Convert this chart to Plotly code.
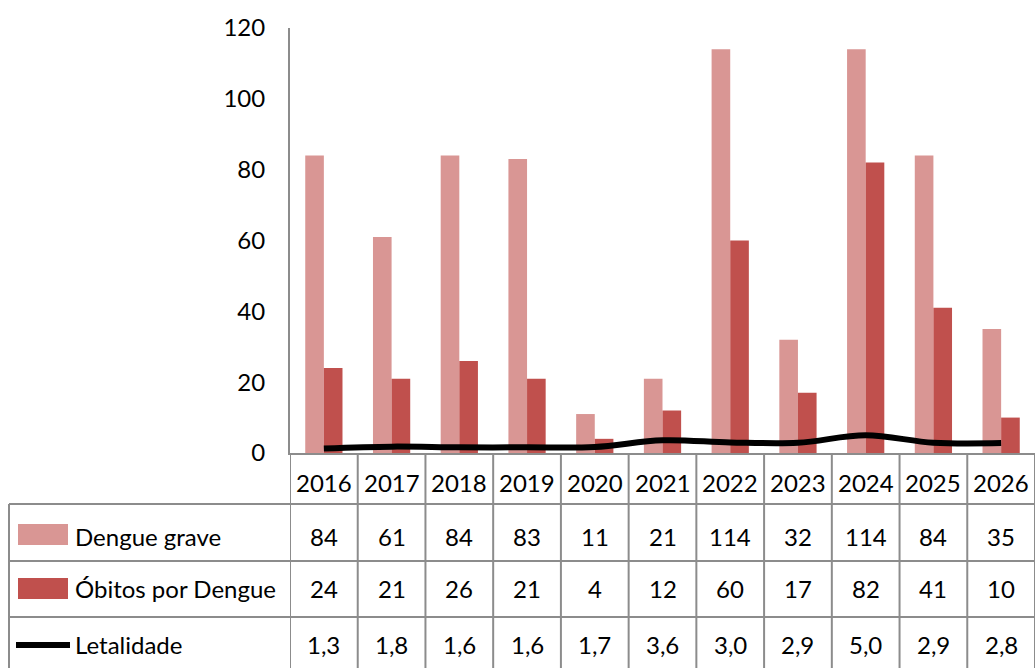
import plotly.graph_objects as go

years = ["2016", "2017", "2018", "2019", "2020", "2021", "2022", "2023", "2024", "2025", "2026"]
dengue_grave = [84, 61, 84, 83, 11, 21, 114, 32, 114, 84, 35]
obitos = [24, 21, 26, 21, 4, 12, 60, 17, 82, 41, 10]
letalidade = [1.3, 1.8, 1.6, 1.6, 1.7, 3.6, 3.0, 2.9, 5.0, 2.9, 2.8]
row_labels = ["Dengue grave", "Óbitos por Dengue", "Letalidade"]

C_PINK = "#D99694"
C_RED = "#C0504D"
GRID = "#8C8C8C"
FONT = "Lato, Liberation Sans, sans-serif"
FS = 24

W, H = 1035, 668
ML, MR, MT, MB = 290, 0, 28, 215
PW = W - ML - MR
PH = H - MT - MB


def px(xpix):
    return (xpix - ML) / PW


def py(ypix):
    return (MT + PH - ypix) / PH


fig = go.Figure()
fig.add_trace(go.Bar(x=years, y=dengue_grave, name=row_labels[0], marker_color=C_PINK,
                     marker_line_width=0))
fig.add_trace(go.Bar(x=years, y=obitos, name=row_labels[1], marker_color=C_RED,
                     marker_line_width=0))
fig.add_trace(go.Scatter(x=years, y=letalidade, name=row_labels[2], mode="lines",
                         line=dict(color="black", width=6, shape="spline", smoothing=1)))

row_centres = [482, 536, 588, 644]
h_lines = [504, 561, 617]
bottom = H + 5

tf = dict(size=FS, family=FONT, color="black")
ann = []
shapes = []
n = len(years)
rows = [
    years,
    [str(v) for v in dengue_grave],
    [str(v) for v in obitos],
    [f"{v:.1f}".replace(".", ",") for v in letalidade],
]
for r, vals in enumerate(rows):
    for i, t in enumerate(vals):
        ann.append(dict(x=i, y=py(row_centres[r]), xref="x", yref="paper", text=t,
                        xanchor="center", yanchor="middle", showarrow=False, font=tf))

for j, lab in enumerate(row_labels):
    ann.append(dict(x=px(73), y=py(row_centres[j + 1]), xref="paper", yref="paper", text=lab,
                    xanchor="left", yanchor="middle", showarrow=False, font=tf))

for k in range(n + 1):
    shapes.append(dict(type="line", xref="x", yref="paper", x0=k - 0.5, x1=k - 0.5,
                       y0=py(453), y1=py(bottom), line=dict(color=GRID, width=2)))
shapes.append(dict(type="line", xref="paper", yref="paper", x0=px(9), x1=px(9),
                   y0=py(h_lines[0]), y1=py(bottom), line=dict(color=GRID, width=2)))
for yy in h_lines:
    shapes.append(dict(type="line", xref="paper", yref="paper", x0=px(9), x1=1.01,
                       y0=py(yy), y1=py(yy), line=dict(color=GRID, width=2)))

shapes.append(dict(type="rect", xref="paper", yref="paper", x0=px(18), x1=px(68),
                   y0=py(545), y1=py(524), fillcolor=C_PINK, line=dict(width=0)))
shapes.append(dict(type="rect", xref="paper", yref="paper", x0=px(18), x1=px(68),
                   y0=py(599), y1=py(578), fillcolor=C_RED, line=dict(width=0)))
shapes.append(dict(type="line", xref="paper", yref="paper", x0=px(16), x1=px(70),
                   y0=py(645), y1=py(645), line=dict(color="black", width=6)))

fig.update_layout(
    width=W, height=H,
    margin=dict(l=ML, r=MR, t=MT, b=MB, pad=0),
    paper_bgcolor="white", plot_bgcolor="white",
    barmode="group", bargap=0.45, bargroupgap=0,
    showlegend=False,
    annotations=ann, shapes=shapes,
    font=dict(family=FONT, size=FS, color="black"),
)
fig.update_xaxes(type="category", showticklabels=False, ticks="", showgrid=False,
                 showline=True, linecolor=GRID, linewidth=2, zeroline=False,
                 range=[-0.5, n - 0.5])
fig.update_yaxes(range=[0, 120], dtick=20, showgrid=False, zeroline=False,
                 showline=True, linecolor=GRID, linewidth=2, ticks="",
                 ticklabelstandoff=18, tickfont=tf)

fig.write_html("out.html", config={"displayModeBar": False},
               post_script="document.body.style.margin='0';")
